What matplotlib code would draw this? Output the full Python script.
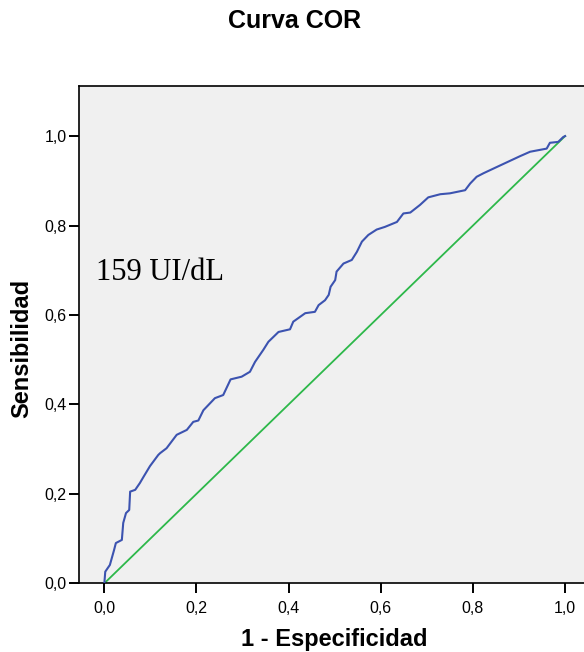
import numpy as np
import matplotlib.pyplot as plt

fpr = [0.0, 0.002, 0.012, 0.021, 0.025, 0.038, 0.041, 0.047, 0.054, 0.056, 0.067,
       0.077, 0.085, 0.099, 0.117, 0.121, 0.135, 0.157, 0.179, 0.193, 0.204, 0.215,
       0.240, 0.258, 0.274, 0.298, 0.316, 0.327, 0.345, 0.356, 0.378, 0.403, 0.410,
       0.436, 0.457, 0.465, 0.479, 0.487, 0.491, 0.501, 0.504, 0.519, 0.537, 0.548,
       0.559, 0.573, 0.591, 0.609, 0.635, 0.649, 0.664, 0.685, 0.703, 0.729, 0.750,
       0.783, 0.794, 0.808, 0.823, 0.852, 0.877, 0.902, 0.924, 0.960, 0.967, 0.985,
       0.996, 1.0]
tpr = [0.0, 0.026, 0.041, 0.074, 0.090, 0.097, 0.135, 0.157, 0.164, 0.205, 0.209,
       0.224, 0.238, 0.262, 0.287, 0.291, 0.302, 0.332, 0.343, 0.361, 0.364, 0.387,
       0.414, 0.421, 0.456, 0.462, 0.473, 0.495, 0.522, 0.540, 0.562, 0.568, 0.585,
       0.604, 0.607, 0.622, 0.633, 0.645, 0.663, 0.678, 0.697, 0.715, 0.723, 0.741,
       0.764, 0.779, 0.791, 0.797, 0.808, 0.827, 0.829, 0.846, 0.863, 0.870, 0.872,
       0.879, 0.894, 0.909, 0.917, 0.931, 0.943, 0.955, 0.965, 0.972, 0.985, 0.987,
       0.998, 1.0]
ref = [0.0, 1.0]
ticks = [0.0, 0.2, 0.4, 0.6, 0.8, 1.0]
tick_labels = ['0,0', '0,2', '0,4', '0,6', '0,8', '1,0']

plt.rcParams['font.family'] = ['Liberation Sans', 'DejaVu Sans']

fig = plt.figure(figsize=(5.84, 6.52), dpi=100)
ax = fig.add_axes([79 / 584, 1 - 583.3 / 652, 1 - 79 / 584, (583.3 - 86) / 652])
ax.set_facecolor('#f0f0f0')

ax.plot(fpr, tpr, color='#3c53b0', lw=1.5, zorder=3)
ax.plot(ref, ref, color='#2db84a', lw=1.3, zorder=2)

ax.set_xlim(-0.055, 1.041)
ax.set_ylim(0, 1.112)
ax.set_xticks(ticks)
ax.set_xticklabels(tick_labels)
ax.set_yticks(ticks)
ax.set_yticklabels(tick_labels)
ax.tick_params(direction='out', length=7.5, width=1.4, labelsize=11.5, colors='black')
ax.tick_params(axis='x', pad=5)
ax.tick_params(axis='y', pad=1.5)

ax.spines['right'].set_visible(False)
for s in ['top', 'left', 'bottom']:
    ax.spines[s].set_linewidth(1.2)

ax.set_xlabel('1 - Especificidad', fontsize=17, fontweight='bold')
ax.xaxis.set_label_coords(0.505, -0.09)
ax.set_ylabel('Sensibilidad', fontsize=17, fontweight='bold')
ax.yaxis.set_label_coords(-0.091, 0.473)

ax.text(-0.019, 0.695, '159 UI/dL', fontsize=22, family='Liberation Serif', va='center')

fig.text(0.505, 1 - 21 / 652, 'Curva COR', ha='center', va='center',
         fontsize=18, fontweight='bold')

fig.savefig('out.png', dpi=100)
